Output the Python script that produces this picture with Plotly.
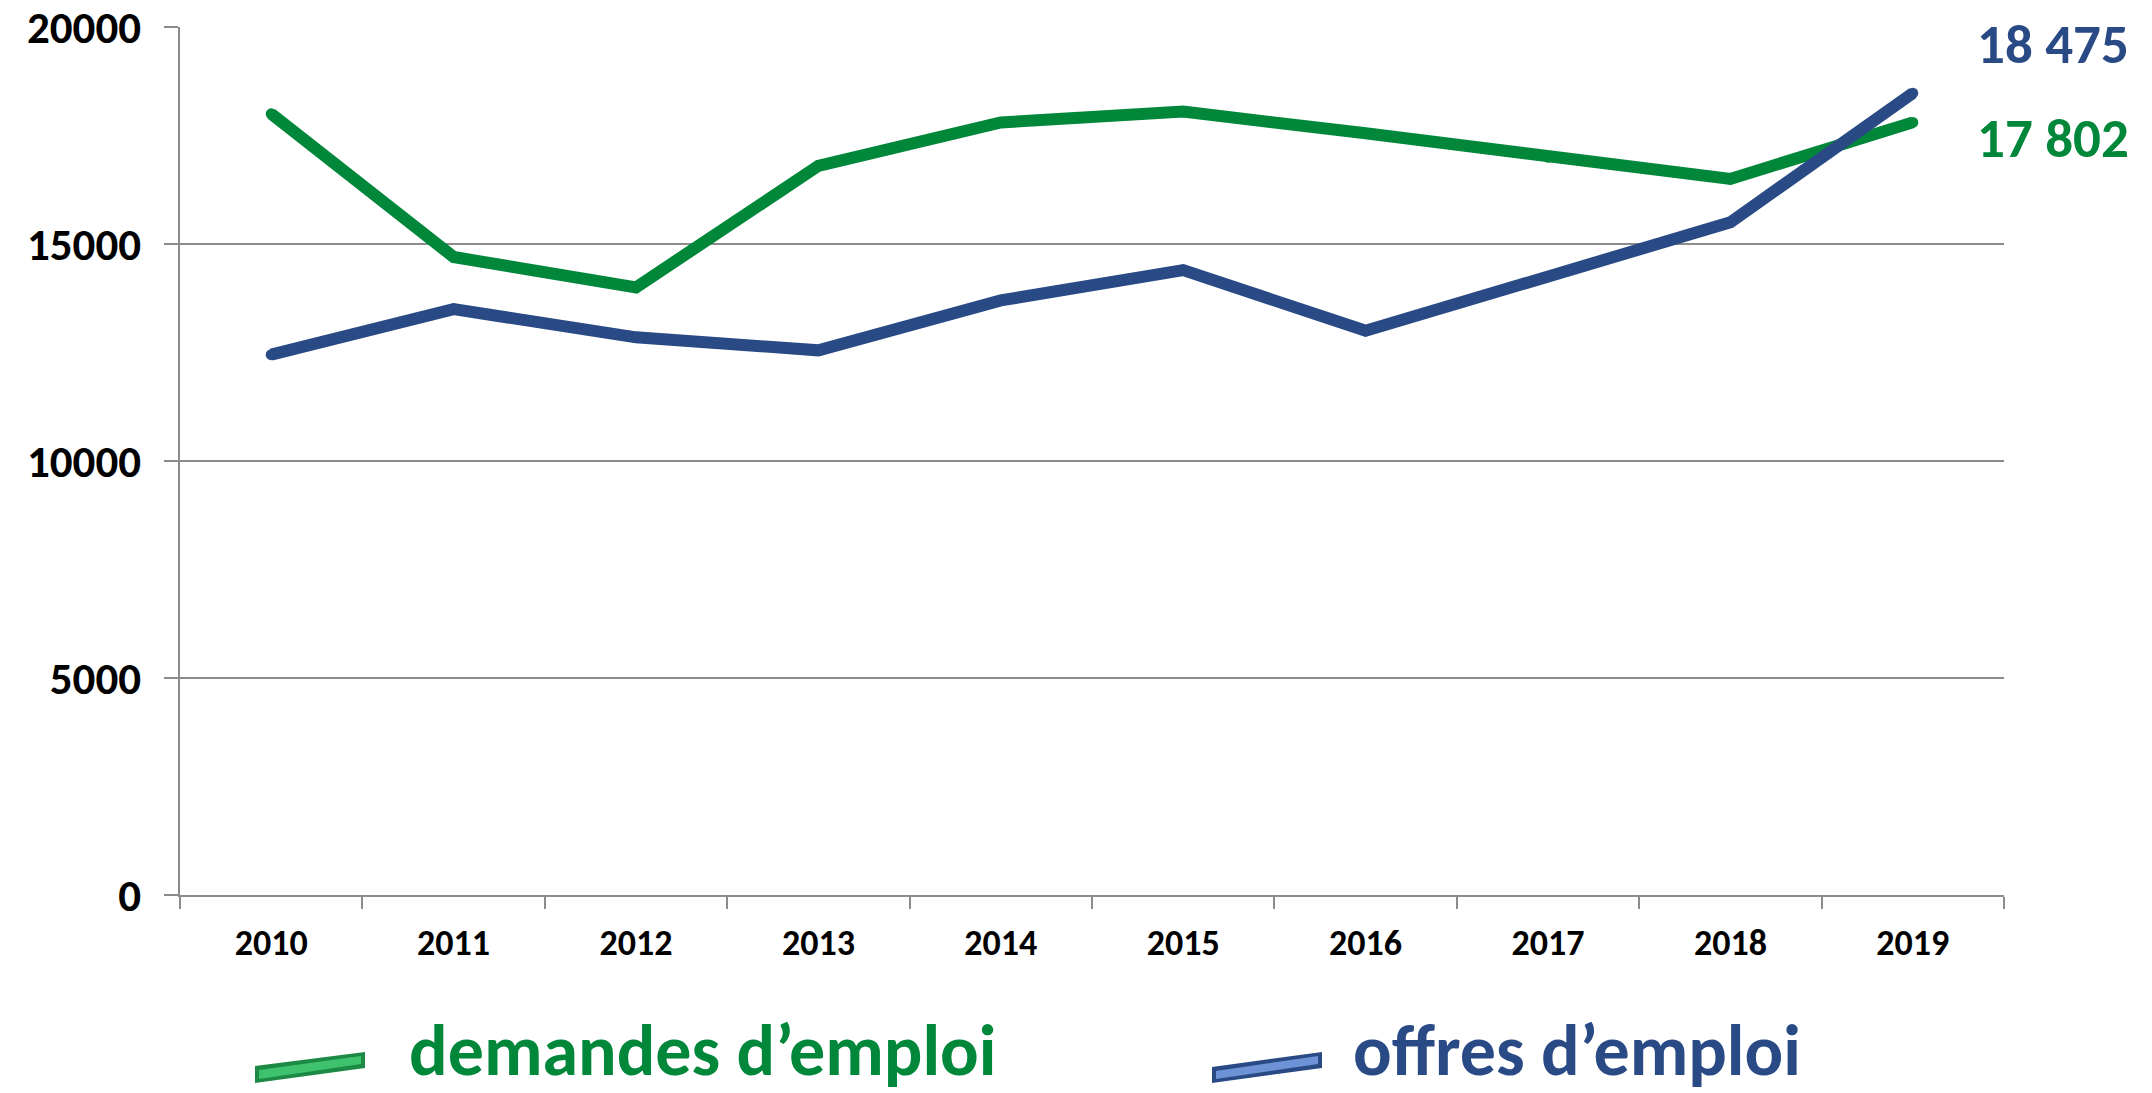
import plotly.graph_objects as go

years = ["2010", "2011", "2012", "2013", "2014", "2015", "2016", "2017", "2018", "2019"]
demandes = [18000, 14700, 14000, 16800, 17800, 18050, 17550, 17000, 16500, 17802]
offres = [12450, 13500, 12850, 12550, 13700, 14400, 13000, 14250, 15500, 18475]
y_ticks = [0, 5000, 10000, 15000, 20000]
label_demandes = "demandes d’emploi"
label_offres = "offres d’emploi"
end_demandes = "17 802"
end_offres = "18 475"

GREEN = "#00873A"
BLUE = "#2A4A85"
GRID = "#8C8C8C"
FONT = "Calibri, Carlito, Lato, sans-serif"

W, H = 2152, 1093
L, R, T, B = 180, 2004, 27, 895


def px(x):
    return (x - L) / (R - L)


def py(y):
    return (B - y) / (B - T)


fig = go.Figure()
fig.add_trace(go.Scatter(x=years, y=demandes, mode="lines+markers",
                         line=dict(color=GREEN, width=12),
                         marker=dict(color=GREEN, size=11, line=dict(width=0)),
                         name=label_demandes, hoverinfo="x+y"))
fig.add_trace(go.Scatter(x=years, y=offres, mode="lines+markers",
                         line=dict(color=BLUE, width=12),
                         marker=dict(color=BLUE, size=11, line=dict(width=0)),
                         name=label_offres, hoverinfo="x+y"))

fig.update_layout(
    width=W, height=H,
    margin=dict(l=L, r=W - R, t=T, b=H - B, autoexpand=False),
    paper_bgcolor="white", plot_bgcolor="white",
    showlegend=False,
    font=dict(family=FONT, color="black"),
)
fig.update_xaxes(
    type="category", range=[-0.5, 9.5],
    showgrid=False, showline=True, linecolor=GRID, linewidth=2,
    ticks="outside", tickson="boundaries", ticklen=12, tickcolor=GRID, tickwidth=2,
    tickfont=dict(family=FONT, size=36, color="black", weight="bold"),
    ticklabelstandoff=15,
)
fig.update_yaxes(
    range=[0, 20000], tickvals=y_ticks, tickformat="d",
    showgrid=True, gridcolor=GRID, gridwidth=2,
    showline=True, linecolor=GRID, linewidth=2,
    ticks="outside", ticklen=14, tickcolor=GRID, tickwidth=2,
    tickfont=dict(family=FONT, size=45, color="black", weight="bold"),
    ticklabelstandoff=14, zeroline=False, ticklabeloverflow="allow",
)

# end-of-line value labels
fig.add_annotation(text=end_offres, xref="paper", yref="paper", x=px(1975), y=py(44),
                   xanchor="left", yanchor="middle", showarrow=False,
                   font=dict(family=FONT, size=55, color=BLUE, weight="bold"))
fig.add_annotation(text=end_demandes, xref="paper", yref="paper", x=px(1975), y=py(138),
                   xanchor="left", yanchor="middle", showarrow=False,
                   font=dict(family=FONT, size=55, color=GREEN, weight="bold"))


# custom legend: bevelled slanted bars + large text
def glyph(x0, x1, ytl, ybl, ytr, ybr, dark, light):
    outer = (f"M {px(x0)},{py(ytl)} L {px(x1)},{py(ytr)} L {px(x1)},{py(ybr)} "
             f"L {px(x0)},{py(ybl)} Z")
    fig.add_shape(type="path", path=outer, xref="paper", yref="paper",
                  fillcolor=dark, line=dict(width=0), layer="above")
    inner = (f"M {px(x0+4)},{py(ytl+4)} L {px(x1-4)},{py(ytr+4)} L {px(x1-4)},{py(ybr-4)} "
             f"L {px(x0+4)},{py(ybl-4)} Z")
    fig.add_shape(type="path", path=inner, xref="paper", yref="paper",
                  fillcolor=light, line=dict(width=0), layer="above")


glyph(255, 365, 1066, 1083, 1052, 1068, "#1C8A44", "#3FC26E")
glyph(1212, 1322, 1067, 1083, 1052, 1068, "#2A4A85", "#6D93D6")

fig.add_annotation(text=label_demandes, xref="paper", yref="paper", x=px(408), y=py(1095),
                   xanchor="left", yanchor="bottom", showarrow=False, borderpad=0,
                   font=dict(family=FONT, size=72, color=GREEN, weight="bold"))
fig.add_annotation(text=label_offres, xref="paper", yref="paper", x=px(1352), y=py(1095),
                   xanchor="left", yanchor="bottom", showarrow=False, borderpad=0,
                   font=dict(family=FONT, size=72, color=BLUE, weight="bold"))

fig.write_html("out.html", config={"displayModeBar": False},
               post_script="document.body.style.margin='0';document.body.style.padding='0';")
